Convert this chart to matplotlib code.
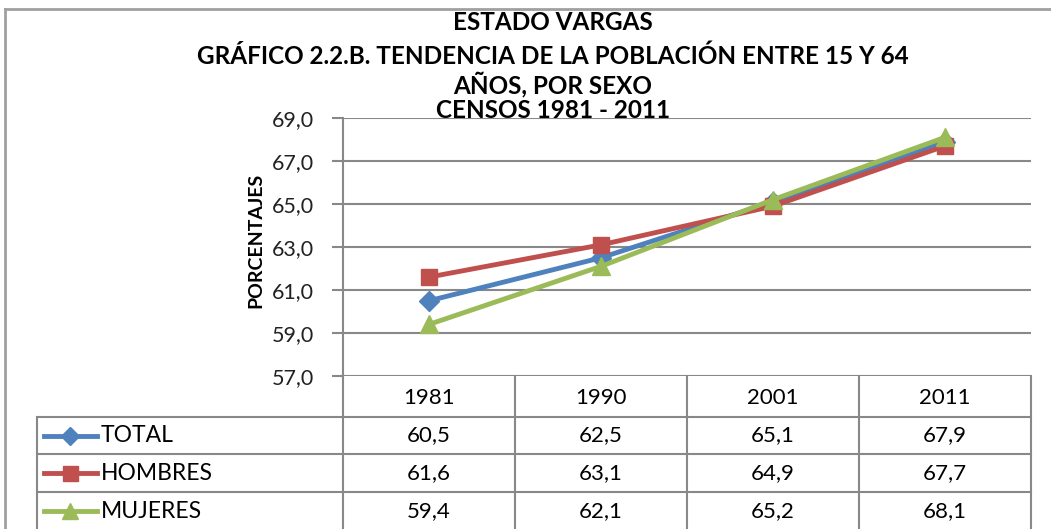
import matplotlib.pyplot as plt
from matplotlib.lines import Line2D

# data
years = ['1981', '1990', '2001', '2011']
total = [60.5, 62.5, 65.1, 67.9]
hombres = [61.6, 63.1, 64.9, 67.7]
mujeres = [59.4, 62.1, 65.2, 68.1]
series_names = ['TOTAL', 'HOMBRES', 'MUJERES']
series_vals = [total, hombres, mujeres]
colors = ['#4F81BD', '#C0504D', '#9BBB59']
markers = ['D', 's', '^']
msizes = [10, 12, 13]
yticks = [57, 59, 61, 63, 65, 67, 69]

W, H = 1051, 529
plt.rcParams['font.family'] = ['Lato', 'DejaVu Sans']
fig = plt.figure(figsize=(W / 100, H / 100), dpi=100)

def fx(x):
    return x / W

def fy(y):
    return 1 - y / H

grey = '#888888'

# plot area
L, R, T, B = 343, 1031, 118, 376
ax = fig.add_axes([fx(L), fy(B), fx(R - L), (B - T) / H])
x = list(range(len(years)))
for vals, c, m, ms in zip(series_vals, colors, markers, msizes):
    ax.plot(x, vals, color=c, lw=3.5, marker=m, ms=ms, mec=c, mfc=c, zorder=3)
ax.set_xlim(-0.5, len(years) - 0.5)
ax.set_ylim(57, 69)
ax.set_yticks(yticks)
ax.set_yticklabels([('%.1f' % v).replace('.', ',') for v in yticks])
ax.set_xticks([])
ax.grid(axis='y', color=grey, lw=1.5)
ax.set_axisbelow(True)
for s in ['top', 'right', 'bottom']:
    ax.spines[s].set_visible(False)
ax.spines['left'].set_color(grey)
ax.spines['left'].set_linewidth(1.5)
ax.tick_params(axis='y', length=8, width=1.5, color=grey, labelsize=15.5, pad=13, labelcolor='#222222')
ax.set_ylabel('PORCENTAJES', fontsize=14, fontweight='bold')
ax.yaxis.set_label_coords((264 - L) / (R - L), (B - 240) / (B - T))

# title
title_lines = ['ESTADO VARGAS',
               'GRÁFICO 2.2.B. TENDENCIA DE LA POBLACIÓN ENTRE 15 Y 64',
               'AÑOS, POR SEXO',
               'CENSOS 1981 - 2011']
title_y = [22, 56, 84, 111]
for t, yy in zip(title_lines, title_y):
    fig.text(fx(553), fy(yy), t, ha='center', va='center', fontsize=17.5, fontweight='bold')

# data table
tx0 = 37
col_w = (R - L) / len(years)
row_y = [376, 417, 454, 492, 530]
lk = dict(color=grey, lw=1.5, transform=fig.transFigure)
for i in range(len(years) + 1):
    xx = L + i * col_w
    fig.add_artist(Line2D([fx(xx), fx(xx)], [fy(376), fy(530)], **lk))
fig.add_artist(Line2D([fx(tx0), fx(tx0)], [fy(417), fy(530)], **lk))
for yy in row_y[1:4]:
    fig.add_artist(Line2D([fx(tx0), fx(R)], [fy(yy), fy(yy)], **lk))
for i, yr in enumerate(years):
    fig.text(fx(L + (i + 0.5) * col_w), fy(398), yr, ha='center', va='center', fontsize=16)
for r, (name, vals, c, m, ms) in enumerate(zip(series_names, series_vals, colors, markers, msizes)):
    yc = (row_y[r + 1] + row_y[r + 2]) / 2
    fig.add_artist(Line2D([fx(44), fx(97)], [fy(yc), fy(yc)], color=c, lw=3.5, transform=fig.transFigure))
    fig.add_artist(Line2D([fx(70)], [fy(yc)], color=c, marker=m, ms=ms * 0.9, mec=c, mfc=c,
                          transform=fig.transFigure))
    fig.text(fx(101), fy(yc), name, ha='left', va='center', fontsize=16.5)
    for i, v in enumerate(vals):
        fig.text(fx(L + (i + 0.5) * col_w), fy(yc), ('%.1f' % v).replace('.', ','),
                 ha='center', va='center', fontsize=16)

# outer chart border
fig.add_artist(Line2D([fx(5), fx(5)], [fy(9), fy(530)], color='#A0A0A0', lw=2, transform=fig.transFigure))
fig.add_artist(Line2D([fx(5), fx(W)], [fy(9), fy(9)], color='#A0A0A0', lw=2, transform=fig.transFigure))

fig.savefig('out.png', dpi=100)
